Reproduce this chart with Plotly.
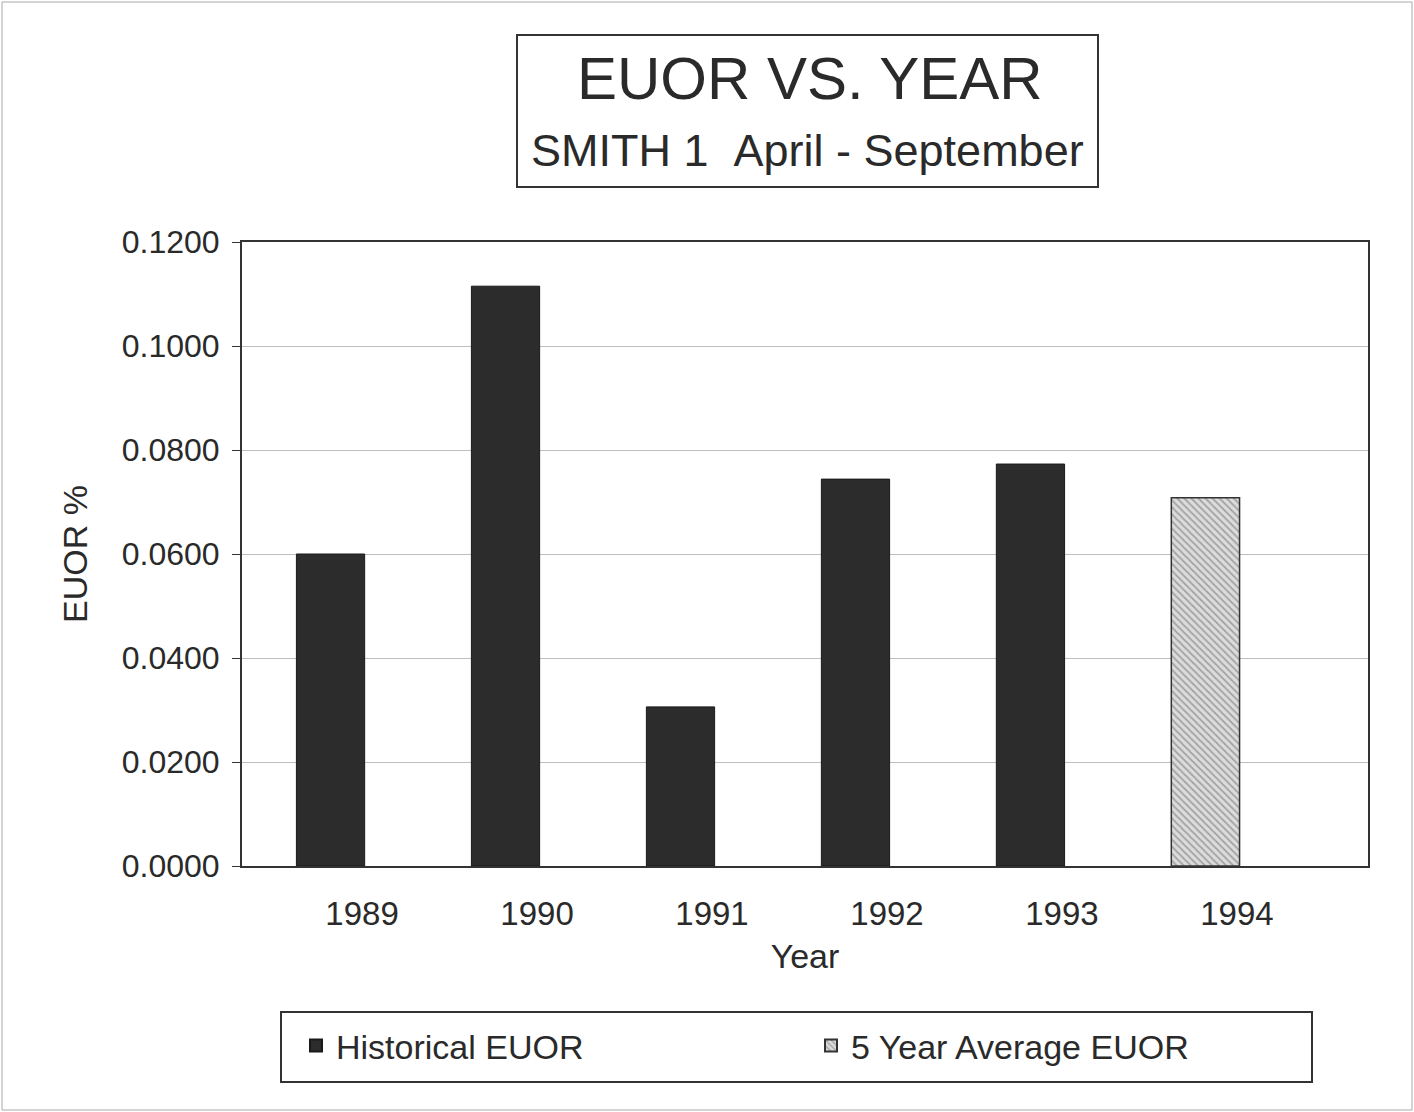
import plotly.graph_objects as go

years = ["1989", "1990", "1991", "1992", "1993"]
historical = [0.0600, 0.1115, 0.0306, 0.0744, 0.0773]
avg_year = ["1994"]
avg_value = [0.0708]
all_years = ["1989", "1990", "1991", "1992", "1993", "1994"]
yticks = [0.0, 0.02, 0.04, 0.06, 0.08, 0.10, 0.12]

FONT = "Liberation Sans, Arial, sans-serif"
TXT = "#2a2a2a"

W, H = 1414, 1112
L, R, T, B = 242, 46, 242, 246
pw, ph = W - L - R, H - T - B

def px(x):
    return (x - L) / pw

def py(y):
    return (H - B - y) / ph

BAR_W = 0.39
BAR_OFF = -0.375

fig = go.Figure()
fig.add_trace(go.Bar(
    x=years, y=historical, name="Historical EUOR", width=BAR_W, offset=BAR_OFF,
    marker=dict(color="#2c2c2c", line=dict(color="#1a1a1a", width=1)),
))
fig.add_trace(go.Bar(
    x=avg_year, y=avg_value, name="5 Year Average EUOR", width=BAR_W, offset=BAR_OFF,
    marker=dict(color="#d9d9d9", line=dict(color="#333333", width=1.5),
                pattern=dict(shape="\\", fgcolor="#6a6a6a", bgcolor="#dcdcdc",
                             size=5, solidity=0.35)),
))

fig.update_layout(
    width=W, height=H,
    margin=dict(l=L, r=R, t=T, b=B),
    paper_bgcolor="white", plot_bgcolor="white",
    barmode="overlay",
    font=dict(family=FONT, color=TXT),
    showlegend=True,
    legend=dict(orientation="h", x=px(296), y=py(1046), xanchor="left", yanchor="middle",
                font=dict(size=34, color=TXT, family=FONT), entrywidth=470,
                bgcolor="rgba(0,0,0,0)", borderwidth=0, itemsizing="constant"),
    xaxis=dict(type="category", categoryorder="array", categoryarray=all_years,
               range=[-0.686, 5.749],
               tickfont=dict(size=33, color=TXT), ticks="", ticklabelstandoff=17,
               showline=True, linecolor="#333333", linewidth=2, mirror=True,
               title=dict(text="Year", font=dict(size=34, color=TXT), standoff=14)),
    yaxis=dict(range=[0, 0.12], tickvals=yticks, tickformat=".4f",
               tickfont=dict(size=32, color=TXT), ticks="outside", ticklen=8,
               tickcolor="#333333", ticklabelstandoff=6,
               showline=True, linecolor="#333333", linewidth=2, mirror=True,
               showgrid=True, gridcolor="#bdbdbd", gridwidth=1, zeroline=False,
               title=dict(text="EUOR %", font=dict(size=34, color=TXT), standoff=24)),
)

shapes = [
    dict(type="rect", xref="paper", yref="paper", x0=px(517), x1=px(1098), y0=py(187), y1=py(35),
         line=dict(color="#333333", width=2), fillcolor="white", layer="below"),
    dict(type="rect", xref="paper", yref="paper", x0=px(281), x1=px(1312), y0=py(1082), y1=py(1012),
         line=dict(color="#333333", width=2), fillcolor="rgba(0,0,0,0)", layer="below"),
    dict(type="rect", xref="paper", yref="paper", x0=px(2), x1=px(1412), y0=py(1110), y1=py(2),
         line=dict(color="#aaaaaa", width=1), fillcolor="rgba(0,0,0,0)", layer="below"),
]
fig.update_layout(shapes=shapes)

fig.add_annotation(xref="paper", yref="paper", x=px(810), y=py(78), text="EUOR VS. YEAR",
                   showarrow=False, font=dict(size=60, color=TXT, family=FONT),
                   xanchor="center", yanchor="middle")
fig.add_annotation(xref="paper", yref="paper", x=px(807), y=py(150), text="SMITH 1&nbsp;&nbsp;April - September",
                   showarrow=False, font=dict(size=45, color=TXT, family=FONT),
                   xanchor="center", yanchor="middle")

fig.write_html("out.html")
